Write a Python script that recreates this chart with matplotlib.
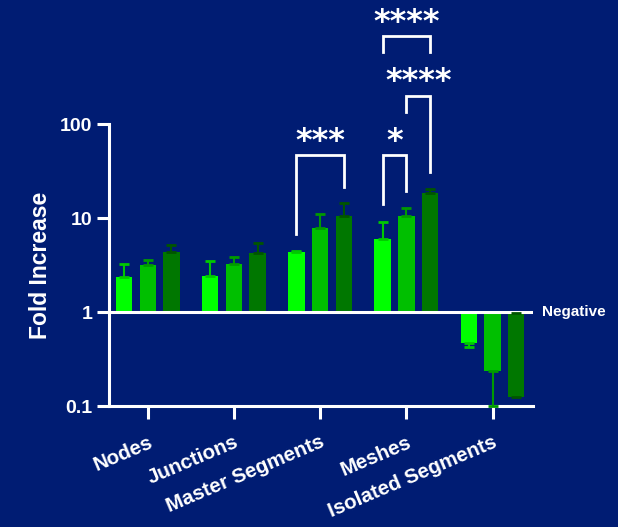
import matplotlib
matplotlib.use("Agg")
import matplotlib.pyplot as plt
import numpy as np

# data (fold increase, log axis)
categories = ['Nodes', 'Junctions', 'Master Segments', 'Meshes', 'Isolated Segments']
group1 = [2.36, 2.42, 4.35, 5.98, 0.472]
group2 = [3.16, 3.24, 7.83, 10.5, 0.234]
group3 = [4.35, 4.24, 10.5, 18.3, 0.126]
# end points of the error bars (one sided)
group1_err = [3.24, 3.49, 4.49, 9.14, 0.427]
group2_err = [3.57, 3.85, 11.1, 12.8, 0.1]
group3_err = [5.16, 5.42, 14.3, 20.4, 0.97]

# significance: (category, left group, right group, bracket top, left leg end, right leg end, label y, label)
signif = [
    (2, 0, 2, 46.8, 6.76, 21.5, 80.0, '***'),
    (3, 0, 1, 46.8, 14.1, 19.4, 80.0, '*'),
    (3, 1, 2, 198.6, 134.0, 30.9, 344.0, '****'),
    (3, 0, 2, 863.0, 583.0, 583.0, 1462.0, '****'),
]

bg = '#001c73'
bar_colors = ['#00ff00', '#00bf00', '#007700']
err_colors = ['#00c800', '#009a00', '#005500']
offsets = [-0.275, 0.0, 0.275]
width = 0.19

plt.rcParams['font.family'] = ['Liberation Sans', 'DejaVu Sans']
plt.rcParams['font.weight'] = 'bold'

fig = plt.figure(figsize=(6.18, 5.27), dpi=100, facecolor=bg)
ax = fig.add_axes([0.1764, 0.2296, 0.6861, 0.5351], facecolor=bg)
ax.set_yscale('log')

x = np.arange(len(categories))
groups = [group1, group2, group3]
errs = [group1_err, group2_err, group3_err]
for i in range(3):
    vals = np.array(groups[i])
    ends = np.array(errs[i])
    pos = x + offsets[i]
    ax.bar(pos, vals - 1, bottom=1, width=width, color=bar_colors[i], zorder=3)
    up = np.where(ends > vals, ends - vals, 0)
    down = np.where(ends < vals, vals - ends, 0)
    eb = ax.errorbar(pos, vals, yerr=[down, up], fmt='none', ecolor=err_colors[i],
                     elinewidth=1.5, capsize=3.5, capthick=2, zorder=2.7)
    for cap in eb[1]:
        cap.set_zorder(3.5)
        cap.set_clip_on(False)

ax.axhline(1, color='white', lw=2.2, zorder=3.2)

for cat, g1, g2, top, lb, rb, ty, lab in signif:
    xl = cat + offsets[g1]
    xr = cat + offsets[g2]
    ax.plot([xl, xl, xr, xr], [lb, top, top, rb], color='white', lw=2.0,
            clip_on=False, zorder=5, solid_joinstyle='miter')
    ax.annotate(lab, ((xl + xr) / 2, ty), xytext=(0, -6), textcoords='offset points',
                color='white', fontsize=23, ha='center', va='center',
                family='DejaVu Sans', fontweight='bold', annotation_clip=False)

ax.text(1.02, 1, 'Negative', transform=ax.get_yaxis_transform(), color='white',
        fontsize=11, fontweight='bold', va='center', ha='left')

ax.set_xlim(-0.45, 4.47)
ax.set_ylim(0.1, 100)
ax.set_yticks([0.1, 1, 10, 100])
ax.set_yticklabels(['0.1', '1', '10', '100'])
ax.minorticks_off()
ax.set_xticks(x)
ax.set_xticklabels(categories, rotation=23, ha='right', rotation_mode='anchor')

for s in ['top', 'right']:
    ax.spines[s].set_visible(False)
for s in ['left', 'bottom']:
    ax.spines[s].set_color('white')
    ax.spines[s].set_linewidth(2.2)
ax.tick_params(colors='white', width=2.2, length=9, labelsize=14)
ax.tick_params(axis='y', pad=3)
ax.tick_params(axis='x', pad=10, labelsize=14.8)
ax.set_ylabel('Fold Increase', color='white', fontsize=16.5, fontweight='bold', labelpad=6)

fig.savefig('out.png', dpi=100, facecolor=bg)
